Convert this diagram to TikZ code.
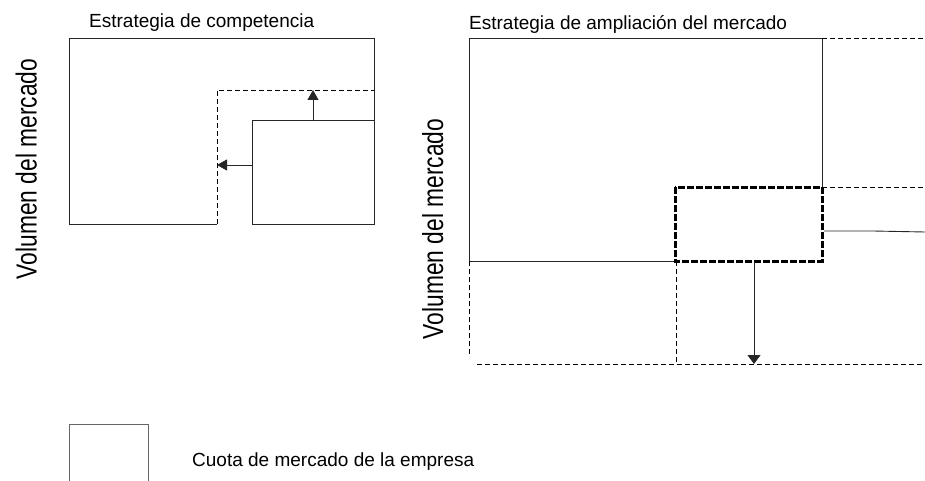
\documentclass[tikz,border=0pt]{standalone}
\usepackage{fontspec}
\setmainfont{Liberation Sans}
\usepackage{graphicx}
\usetikzlibrary{arrows.meta}
\begin{document}
\begin{tikzpicture}[x=1pt,y=-1pt,
  solidln/.style={line width=0.9pt, draw=black!85},
  dashln/.style={line width=0.9pt, draw=black, dash pattern=on 5pt off 3pt},
  thickdash/.style={line width=3pt, draw=black, dash pattern=on 7pt off 2pt},
  arr/.style={line width=0.9pt, draw=black!85, -{Triangle[length=10pt,width=11pt]}},
  arrb/.style={line width=0.9pt, draw=black!85, -{Triangle[length=9pt,width=13pt]}},
  title/.style={inner sep=0pt, anchor=base west, font=\fontsize{19}{22}\selectfont},
  vlabel/.style={inner sep=0pt, anchor=base, rotate=90, font=\fontsize{29}{30}\selectfont}]
\useasboundingbox (0,0) rectangle (925,481);
% titles and labels
\node[title] (t1) at (89,27.7) {Estrategia de competencia};
\node[title] (t2) at (469,30) {Estrategia de ampliación del mercado};
\node[vlabel] (v1) at (36.5,169) {\scalebox{0.785}[1]{Volumen del mercado}};
\node[vlabel] (v2) at (443,229) {\scalebox{0.785}[1]{Volumen del mercado}};
\node[title] (lg) at (192,466.5) {Cuota de mercado de la empresa};
% ---- left panel
\coordinate (Ltl) at (69,38);
\coordinate (Ltr) at (374,38);
\coordinate (Lbl) at (69,224);
\coordinate (Lbm) at (217,224);
\coordinate (Ldm) at (217,90);
\coordinate (Ldr) at (374,90);
\coordinate (Stl) at (252,120);
\coordinate (Str) at (374,120);
\coordinate (Sbl) at (252,224);
\coordinate (Sbr) at (374,224);
\coordinate (Sup) at (313,120);
\coordinate (Dup) at (313,90);
\coordinate (Slf) at (252,165);
\coordinate (Dlf) at (217,165);
\draw[solidln] (Lbm) -- (Lbl) -- (Ltl) -- (Ltr) -- (Sbr) -- (Sbl) -- (Stl) -- (Str);
\draw[dashln] (Lbm) -- (Ldm) -- (Ldr);
\draw[arr] (Sup) -- (Dup);
\draw[arr] (Slf) -- (Dlf);
% ---- right panel
\coordinate (Rtl) at (469,38);
\coordinate (Rtr) at (822,38);
\coordinate (Rbl) at (469,261);
\coordinate (Tbl) at (675,261);
\coordinate (Ttl) at (675,187);
\coordinate (Tbr) at (822,261);
\coordinate (Rm) at (822,187);
\coordinate (Etr) at (925,38);
\coordinate (Em) at (925,187);
\coordinate (Rdl) at (469,356);
\coordinate (Tdl) at (676,363);
\coordinate (Bl) at (477,364);
\coordinate (Br) at (925,364);
\coordinate (Ws) at (824,231);
\coordinate (Wk) at (873,231);
\coordinate (We) at (925,232);
\coordinate (As) at (754,262);
\coordinate (Ae) at (754,364);
\draw[solidln] (Tbl) -- (Rbl) -- (Rtl) -- (Rtr) -- (Rm);
\draw[dashln] (Rtr) -- (Etr);
\draw[dashln] (Rm) -- (Em);
\draw[dashln] (Rbl) -- (Rdl);
\draw[dashln] ([xshift=1pt]Tbl) -- (Tdl);
\draw[dashln] (Bl) -- (Br);
\draw[thickdash] (Ttl) rectangle (Tbr);
\draw[solidln] (Ws) -- (Wk) -- (We);
\draw[arrb] (As) -- (Ae);
% ---- legend
\coordinate (Ka) at (69,481);
\coordinate (Kb) at (69,424);
\coordinate (Kc) at (148,424);
\coordinate (Kd) at (148,481);
\draw[line width=0.9pt, draw=black!60] (Ka) -- (Kb) -- (Kc) -- (Kd);
\end{tikzpicture}
\end{document}
